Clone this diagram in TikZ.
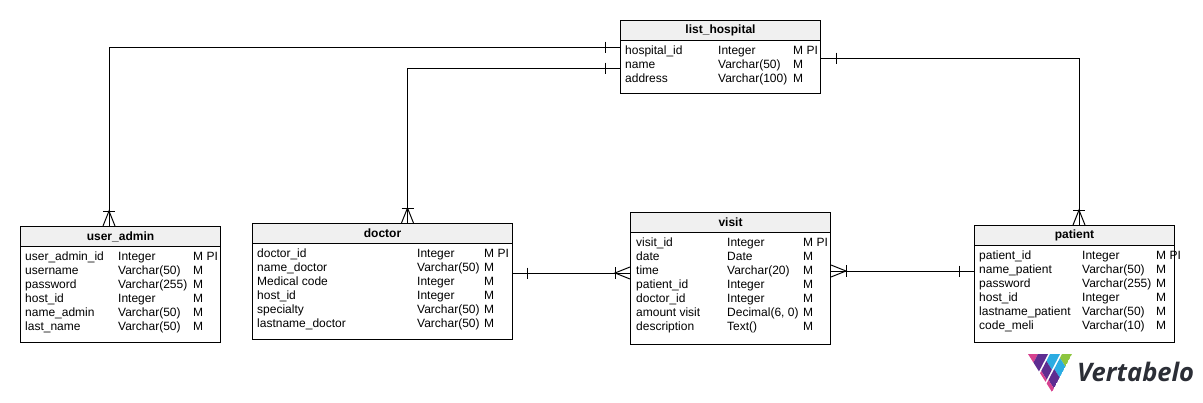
\documentclass[tikz,border=0pt]{standalone}
\usepackage{fontspec}
\setmainfont{Liberation Sans}
\newfontfamily\logofont{Open Sans}
\usetikzlibrary{calc,positioning}

\definecolor{headgray}{HTML}{F0F0F0}
\definecolor{logopink}{HTML}{D6418F}
\definecolor{logopurple}{HTML}{5E2D91}
\definecolor{logocyan}{HTML}{2BACE2}
\definecolor{logogreen}{HTML}{8DC63F}
\definecolor{logotext}{HTML}{2B2E36}

\tikzset{
  tablebox/.style={draw,fill=white,line width=1pt,anchor=north west,inner sep=0pt},
  headbox/.style={draw,fill=headgray,line width=1pt,anchor=north west,inner sep=0pt,
    minimum height=20pt,font=\fontsize{12}{14}\selectfont\bfseries},
  coltext/.style={anchor=north west,inner sep=0pt,align=left,
    font=\fontsize{12}{14}\selectfont},
  relation/.style={line width=1pt},
  onetick/.pic={\draw[line width=1pt] (0,-5.5) -- (0,5.5);},
  crowfoot/.pic={\draw[line width=1pt] (-15,-6) -- (0,0) -- (-15,6);
    \draw[line width=1pt] (0,-6) -- (0,6);},
}

\begin{document}
\begin{tikzpicture}[x=1pt,y=-1pt]
  \useasboundingbox (0,0) rectangle (1203,402);

  % list_hospital
  \node[tablebox,minimum width=200pt,minimum height=73pt] (hospital) at (620,20) {};
  \node[headbox,minimum width=200pt] (hospitalhead) at (hospital.north west) {list\_hospital};
  \node[coltext] (hospitalname) at ($(hospital.north west)+(5,26)$) {hospital\_id\\name\\address};
  \node[coltext] (hospitaltype) at ($(hospital.north west)+(98,26)$) {Integer\\Varchar(50)\\Varchar(100)};
  \node[coltext] (hospitalflag) at ($(hospital.north west)+(173,26)$) {M PI\\M\\M};

  % user_admin
  \node[tablebox,minimum width=200pt,minimum height=116pt] (admin) at (20,226) {};
  \node[headbox,minimum width=200pt] (adminhead) at (admin.north west) {user\_admin};
  \node[coltext] (adminname) at ($(admin.north west)+(5,26)$) {user\_admin\_id\\username\\password\\host\_id\\name\_admin\\last\_name};
  \node[coltext] (admintype) at ($(admin.north west)+(98,26)$) {Integer\\Varchar(50)\\Varchar(255)\\Integer\\Varchar(50)\\Varchar(50)};
  \node[coltext] (adminflag) at ($(admin.north west)+(173,26)$) {M PI\\M\\M\\M\\M\\M};

  % doctor
  \node[tablebox,minimum width=260pt,minimum height=116pt] (doctor) at (252,223) {};
  \node[headbox,minimum width=260pt] (doctorhead) at (doctor.north west) {doctor};
  \node[coltext] (doctorname) at ($(doctor.north west)+(5,26)$) {doctor\_id\\name\_doctor\\Medical code\\host\_id\\specialty\\lastname\_doctor};
  \node[coltext] (doctortype) at ($(doctor.north west)+(165,26)$) {Integer\\Varchar(50)\\Integer\\Integer\\Varchar(50)\\Varchar(50)};
  \node[coltext] (doctorflag) at ($(doctor.north west)+(232,26)$) {M PI\\M\\M\\M\\M\\M};

  % visit
  \node[tablebox,minimum width=200pt,minimum height=132pt] (visit) at (630,212) {};
  \node[headbox,minimum width=200pt] (visithead) at (visit.north west) {visit};
  \node[coltext] (visitname) at ($(visit.north west)+(6,26)$) {visit\_id\\date\\time\\patient\_id\\doctor\_id\\amount visit\\description};
  \node[coltext] (visittype) at ($(visit.north west)+(97,26)$) {Integer\\Date\\Varchar(20)\\Integer\\Integer\\Decimal(6, 0)\\Text()};
  \node[coltext] (visitflag) at ($(visit.north west)+(173,26)$) {M PI\\M\\M\\M\\M\\M\\M};

  % patient
  \node[tablebox,minimum width=200pt,minimum height=117pt] (patient) at (974,225) {};
  \node[headbox,minimum width=200pt] (patienthead) at (patient.north west) {patient};
  \node[coltext] (patientname) at ($(patient.north west)+(5,26)$) {patient\_id\\name\_patient\\password\\host\_id\\lastname\_patient\\code\_meli};
  \node[coltext] (patienttype) at ($(patient.north west)+(108,26)$) {Integer\\Varchar(50)\\Varchar(255)\\Integer\\Varchar(50)\\Varchar(10)};
  \node[coltext] (patientflag) at ($(patient.north west)+(182,26)$) {M PI\\M\\M\\M\\M\\M};

  % Relations
  \coordinate (hospitalA) at ($(hospital.north west)+(0,27)$);
  \coordinate (hospitalB) at ($(hospital.north west)+(0,48)$);
  \coordinate (hospitalC) at ($(hospital.north east)+(0,38)$);
  \coordinate (adminTop) at ($(admin.north west)+(89,0)$);
  \coordinate (doctorTop) at ($(doctor.north west)+(155.5,0)$);
  \coordinate (patientTop) at ($(patient.north west)+(105,0)$);
  \coordinate (doctorRight) at ($(doctor.north east)+(0,50)$);
  \coordinate (visitLeft) at (visit.west |- doctorRight);
  \coordinate (visitRight) at ($(visit.north east)+(0,59)$);
  \coordinate (patientLeft) at (patient.west |- visitRight);

  \draw[relation] (hospitalA) -| (adminTop);
  \draw[relation] (hospitalB) -| (doctorTop);
  \draw[relation] (hospitalC) -| (patientTop);
  \draw[relation] (doctorRight) -- (visitLeft);
  \draw[relation] (visitRight) -- (patientLeft);

  \path ($(hospitalA)+(-15,0)$) pic {onetick};
  \path ($(hospitalB)+(-15,0)$) pic {onetick};
  \path ($(hospitalC)+(15,0)$) pic {onetick};
  \path ($(doctorRight)+(14,0)$) pic {onetick};
  \path ($(patientLeft)+(-15,0)$) pic {onetick};
  \path ($(adminTop)+(0,-15)$) pic[rotate=90] {crowfoot};
  \path ($(doctorTop)+(0,-15)$) pic[rotate=90] {crowfoot};
  \path ($(patientTop)+(0,-15)$) pic[rotate=90] {crowfoot};
  \path ($(visitLeft)+(-15,0)$) pic[xscale=-1] {crowfoot};
  \path ($(visitRight)+(15,0)$) pic {crowfoot};

  % Logo
  \begin{scope}
    \clip (1028,354) -- (1072,354) -- (1052,392) -- cycle;
    \foreach \a/\w/\s/\e/\c in {1028/8/340/380/logopink,
      1038/10/340/385/logopurple,
      1050/10/340/361/logocyan,1050/10/361/371/logopurple,1050/10/371/400/logopink,
      1062/10/340/358/logogreen,1062/10/358/369/logocyan,1062/10/369/380/logopurple,1062/10/380/400/logopink}
      \fill[\c] ({\a-0.52*(\s-354)},\s) -- ({\a-0.52*(\e-354)},\e)
        -- ({\a-0.52*(\e-354)+5.5},\e+8.7) -- ({\a-0.52*(\s-354)+5.5},\s+8.7) -- cycle;
  \end{scope}
  \node[inner sep=0pt,anchor=base west,text=logotext,font=\logofont\bfseries\itshape\fontsize{25.5}{26}\selectfont] (logoname) at (1077,381) {Vertabelo};
\end{tikzpicture}
\end{document}
